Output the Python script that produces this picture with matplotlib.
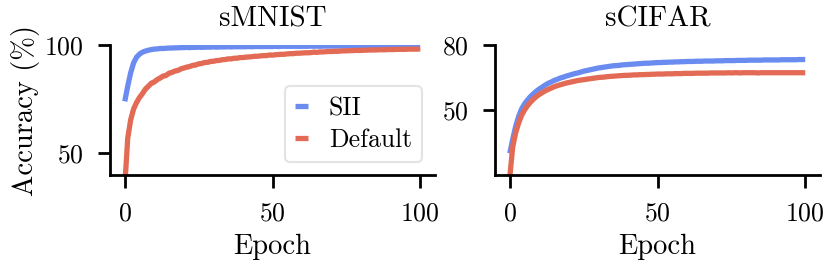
import numpy as np
import matplotlib
matplotlib.use("Agg")
import matplotlib.pyplot as plt

plt.rcParams['font.family'] = 'serif'
plt.rcParams['font.serif'] = ['cmr10']
plt.rcParams['mathtext.fontset'] = 'cm'
plt.rcParams['axes.formatter.use_mathtext'] = True

# epochs 0..100
epochs = np.arange(101)

# sMNIST accuracy (%)
mnist_sii = [
    74.0, 81.0, 87.2, 91.8, 94.4, 95.8, 96.7, 97.2, 97.6, 97.9,
    98.1, 98.2, 98.4, 98.4, 98.5, 98.6, 98.6, 98.7, 98.7, 98.8,
    98.8, 98.9, 98.8, 98.9, 98.9, 99.0, 98.9, 99.0, 99.0, 99.0,
    99.1, 99.0, 99.1, 99.1, 99.1, 99.2, 99.1, 99.2, 99.2, 99.2,
    99.2, 99.2, 99.3, 99.2, 99.3, 99.3, 99.3, 99.3, 99.3, 99.3,
    99.3, 99.4, 99.3, 99.4, 99.4, 99.4, 99.4, 99.4, 99.4, 99.4,
    99.4, 99.4, 99.4, 99.5, 99.4, 99.5, 99.4, 99.5, 99.5, 99.5,
    99.5, 99.5, 99.5, 99.5, 99.5, 99.5, 99.5, 99.5, 99.5, 99.5,
    99.5, 99.5, 99.5, 99.5, 99.5, 99.5, 99.5, 99.5, 99.5, 99.5,
    99.5, 99.5, 99.5, 99.5, 99.5, 99.5, 99.5, 99.5, 99.5, 99.5, 99.5]
mnist_default = [
    35.0, 57.0, 65.5, 70.5, 73.5, 75.8, 77.6, 79.7, 81.0, 82.4,
    83.0, 84.1, 84.8, 85.7, 86.0, 87.0, 87.4, 88.0, 88.3, 89.0,
    89.4, 89.8, 90.1, 90.6, 90.8, 91.3, 91.5, 91.9, 92.0, 92.4,
    92.5, 92.8, 92.9, 93.2, 93.3, 93.6, 93.6, 93.9, 93.9, 94.2,
    94.2, 94.4, 94.5, 94.6, 94.8, 94.8, 95.0, 95.1, 95.1, 95.4,
    95.3, 95.5, 95.6, 95.7, 95.7, 95.9, 96.0, 96.0, 96.2, 96.2,
    96.3, 96.4, 96.4, 96.5, 96.7, 96.6, 96.8, 96.8, 96.9, 97.0,
    97.0, 97.1, 97.1, 97.2, 97.3, 97.3, 97.4, 97.4, 97.5, 97.5,
    97.5, 97.6, 97.6, 97.7, 97.7, 97.7, 97.8, 97.8, 97.8, 97.9,
    97.9, 97.9, 98.0, 98.0, 98.0, 98.0, 98.1, 98.1, 98.1, 98.1, 98.2]
mnist_default_std = [
    3.0, 2.5, 2.0, 1.8, 1.6, 1.5, 1.5, 1.4, 1.4, 1.3,
    1.3, 1.3, 1.2, 1.2, 1.2, 1.2, 1.1, 1.1, 1.1, 1.1,
    1.0, 1.0, 1.0, 1.0, 1.0, 0.9, 0.9, 0.9, 0.9, 0.9,
    0.9, 0.8, 0.8, 0.8, 0.8, 0.8, 0.8, 0.8, 0.7, 0.7,
    0.7, 0.7, 0.7, 0.7, 0.7, 0.6, 0.6, 0.6, 0.6, 0.6,
    0.6, 0.6, 0.6, 0.5, 0.5, 0.5, 0.5, 0.5, 0.5, 0.5,
    0.5, 0.5, 0.4, 0.4, 0.4, 0.4, 0.4, 0.4, 0.4, 0.4,
    0.4, 0.4, 0.3, 0.3, 0.3, 0.3, 0.3, 0.3, 0.3, 0.3,
    0.3, 0.3, 0.3, 0.3, 0.3, 0.3, 0.3, 0.3, 0.3, 0.3,
    0.3, 0.3, 0.3, 0.3, 0.3, 0.3, 0.3, 0.3, 0.3, 0.3, 0.3]

# sCIFAR accuracy (%)
cifar_sii = [
    30.0, 36.5, 42.5, 47.0, 50.5, 52.8, 54.6, 56.2, 57.5, 58.7,
    59.7, 60.6, 61.5, 62.3, 62.9, 63.6, 64.1, 64.7, 65.1, 65.6,
    66.0, 66.4, 66.8, 67.1, 67.5, 67.9, 68.2, 68.5, 68.8, 69.1,
    69.4, 69.6, 69.8, 70.0, 70.2, 70.4, 70.5, 70.6, 70.8, 70.9,
    71.0, 71.1, 71.2, 71.3, 71.4, 71.5, 71.6, 71.6, 71.7, 71.8,
    71.9, 71.9, 72.0, 72.0, 72.1, 72.1, 72.2, 72.2, 72.3, 72.3,
    72.4, 72.4, 72.4, 72.5, 72.5, 72.5, 72.6, 72.6, 72.6, 72.6,
    72.7, 72.7, 72.7, 72.8, 72.8, 72.8, 72.8, 72.9, 72.9, 72.9,
    72.9, 73.0, 73.0, 73.0, 73.0, 73.0, 73.1, 73.1, 73.1, 73.1,
    73.1, 73.1, 73.2, 73.2, 73.2, 73.2, 73.2, 73.2, 73.3, 73.3, 73.3]
cifar_default = [
    19.0, 33.0, 39.5, 44.0, 47.5, 50.0, 52.0, 53.6, 55.0, 56.2,
    57.2, 58.0, 58.8, 59.5, 60.1, 60.7, 61.2, 61.6, 62.0, 62.4,
    62.7, 63.0, 63.3, 63.6, 63.8, 64.0, 64.2, 64.4, 64.6, 64.8,
    65.0, 65.1, 65.2, 65.4, 65.5, 65.6, 65.7, 65.8, 65.9, 66.0,
    66.0, 66.1, 66.2, 66.2, 66.3, 66.3, 66.4, 66.4, 66.5, 66.5,
    66.6, 66.6, 66.6, 66.7, 66.7, 66.7, 66.8, 66.8, 66.8, 66.9,
    66.9, 66.9, 66.9, 67.0, 67.0, 67.0, 67.0, 67.0, 67.1, 67.1,
    67.1, 67.1, 67.1, 67.1, 67.2, 67.1, 67.2, 67.2, 67.1, 67.2,
    67.2, 67.2, 67.2, 67.2, 67.1, 67.2, 67.2, 67.2, 67.2, 67.2,
    67.2, 67.2, 67.2, 67.2, 67.2, 67.2, 67.2, 67.2, 67.2, 67.2, 67.2]

c_sii = '#6a8cf0'
c_def = '#e36b55'
fs_tick = 18.5
fs_label = 20.5
fs_title = 21

fig = plt.figure(figsize=(8.3, 2.62), dpi=100)
ax1 = fig.add_axes([110 / 830, 1 - 175 / 262, 325 / 830, 130 / 262])
ax2 = fig.add_axes([495 / 830, 1 - 175 / 262, 325 / 830, 130 / 262])

panels = [
    (ax1, 'sMNIST', mnist_sii, mnist_default, (40, 100), [50, 100]),
    (ax2, 'sCIFAR', cifar_sii, cifar_default, (20, 80), [50, 80]),
]
for ax, title, sii, default, ylim, yt in panels:
    ax.plot(epochs, sii, color=c_sii, lw=3.8, label='SII', solid_capstyle='butt')
    ax.plot(epochs, default, color=c_def, lw=3.8, label='Default', solid_capstyle='butt')
    ax.set_xlim(-5, 105)
    ax.set_ylim(*ylim)
    ax.set_xticks([0, 50, 100])
    ax.set_yticks(yt)
    ax.set_title(title, fontsize=fs_title, pad=13)
    ax.set_xlabel('Epoch', fontsize=fs_label, labelpad=6)
    for s in ['top', 'right']:
        ax.spines[s].set_visible(False)
    for s in ['left', 'bottom']:
        ax.spines[s].set_linewidth(2)
    ax.tick_params(labelsize=fs_tick, length=9, width=2, pad=10)

lo = np.array(mnist_default) - np.array(mnist_default_std)
hi = np.array(mnist_default) + np.array(mnist_default_std)
ax1.fill_between(epochs, lo, hi, color=c_def, alpha=0.35, lw=0)

ax1.set_ylabel('Accuracy (%)', fontsize=fs_label, labelpad=3)
leg = ax1.legend(loc='lower right', fontsize=fs_tick, handlelength=0.5,
                 handletextpad=0.8, labelspacing=0.3, borderpad=0.4)
leg.get_frame().set_edgecolor('#dddddd')
leg.get_frame().set_linewidth(1.5)

fig.savefig('out.png', dpi=100)
